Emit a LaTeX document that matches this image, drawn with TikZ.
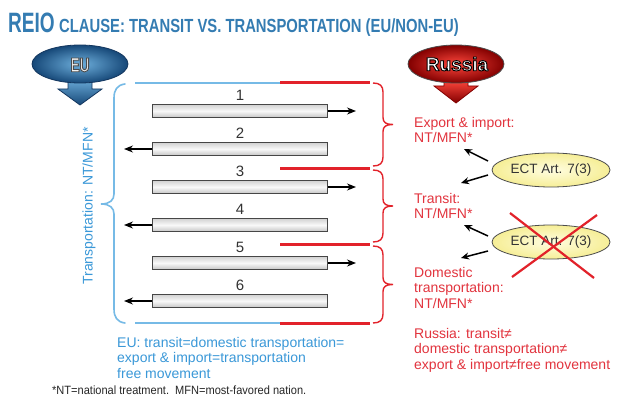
\documentclass[tikz,border=0pt]{standalone}
\usepackage{fontspec}
\setmainfont{Liberation Sans}
\newfontfamily\condfont{Liberation Sans}[FakeStretch=0.68]
\newfontfamily\subfont{Liberation Sans}[FakeStretch=0.78]
\newfontfamily\notefont{Liberation Sans}[FakeStretch=0.92]
\usetikzlibrary{shapes.geometric,arrows.meta,calc}

\definecolor{titleblue}{RGB}{52,124,178}
\definecolor{eutext}{RGB}{58,152,216}
\definecolor{euline}{RGB}{118,186,230}
\definecolor{eublobin}{RGB}{110,175,220}
\definecolor{eublobout}{RGB}{22,72,120}
\definecolor{eudark}{RGB}{20,55,95}
\definecolor{rured}{RGB}{226,34,42}
\definecolor{rutext}{RGB}{226,52,62}
\definecolor{rublobin}{RGB}{255,70,60}
\definecolor{rublobout}{RGB}{130,0,0}
\definecolor{ectfill}{RGB}{246,238,150}
\definecolor{ectin}{RGB}{255,253,225}

% outlined lettering: fill in the current colour, stroke in the given grey level
\newcommand\strokedword[2]{\special{pdf:literal direct 2 Tr 0.9 w #1 G}#2\special{pdf:literal direct 0 Tr}}

\tikzset{
  bar/.style={draw=gray!55!black, line width=0.9pt, minimum width=175pt, minimum height=13pt,
    inner sep=0pt, shading=axis, top color=gray!35, bottom color=gray!45, middle color=gray!5},
  num/.style={inner sep=0pt, font=\fontsize{15}{15}\selectfont, text=black!80},
  flow/.style={line width=1.2pt, -{Stealth[length=9pt,width=7pt]}},
  ectarrow/.style={line width=1.5pt, -{Stealth[length=8pt,width=7pt]}},
  ect/.style={ellipse, draw=gray!60!black, line width=0.8pt, minimum width=118pt, minimum height=34pt,
    inner sep=0pt, inner color=ectin, outer color=ectfill, font=\fontsize{13.5}{13.5}\selectfont, text=black!80},
  rtext/.style={anchor=north west, inner sep=0pt, align=left, text=rutext,
    font=\fontsize{14}{15.6}\selectfont},
  btext/.style={anchor=north west, inner sep=0pt, align=left, text=eutext,
    font=\fontsize{14}{15.6}\selectfont},
  blueline/.style={draw=euline, line width=1.6pt},
  redline/.style={draw=rured, line width=3pt},
  redbrace/.style={draw=rured, line width=1.4pt},
  bluebrace/.style={draw=euline, line width=1.6pt, line cap=round},
}

\begin{document}
\begin{tikzpicture}[x=1pt, y=-1pt]
\path[use as bounding box, fill=white] (0,0) rectangle (620,398);

% heading
\node[anchor=base west, inner sep=0pt, text=titleblue,
  font=\condfont\bfseries\fontsize{28}{28}\selectfont] (reio) at (8,33) {REIO};
\node[anchor=base west, inner sep=0pt, text=titleblue,
  font=\subfont\bfseries\fontsize{19}{19}\selectfont] (clause) at (59,33)
  {CLAUSE: TRANSIT VS. TRANSPORTATION (EU/NON-EU)};

% EU badge
\shade[top color=eublobin, bottom color=eublobout, draw=eudark, line width=0.8pt]
  (68,78) -- (68,89) -- (58,89) -- (80,105) -- (102,89) -- (92,89) -- (92,78) -- cycle;
\shade[inner color=eublobin, outer color=eublobout, draw=eudark, line width=0.8pt]
  (80,64) ellipse [x radius=48, y radius=19];
\node[inner sep=0pt, text=gray!10, font=\condfont\bfseries\fontsize{20}{20}\selectfont]
  (eu) at (80,65) {\strokedword{0.3}{EU}};

% Russia badge
\shade[top color=rublobin, bottom color=rublobout, draw=rublobout, line width=0.8pt]
  (444,80) -- (444,86) -- (434,86) -- (456,103) -- (478,86) -- (468,86) -- (468,80) -- cycle;
\shade[inner color=rublobin, outer color=rublobout, draw=black!70, line width=0.8pt]
  (456,64) ellipse [x radius=48, y radius=19];
\node[inner sep=0pt, text=white, font=\bfseries\fontsize{19}{19}\selectfont]
  (ru) at (457,64) {\strokedword{0}{Russia}};

% upper and lower frame lines
\draw[blueline] (135,83) -- (280,83);
\draw[redline] (280,83) -- (370,83);
\draw[blueline] (135,323) -- (280,323);
\draw[redline] (280,323) -- (370,323);
% split marks between the Russian categories
\draw[redline] (280,168) -- (370,168);
\draw[redline] (280,244) -- (370,244);

% EU brace
\draw[bluebrace] (125,84) .. controls (117,85) and (114,90) .. (114,98) -- (114,194)
  .. controls (114,200) and (110,204) .. (101,204)
  .. controls (110,204) and (114,208) .. (114,214) -- (114,309)
  .. controls (114,317) and (117,322) .. (125,323);

% Russian braces
\foreach \ya/\yb in {83/166, 170/242, 246/323}{
  \pgfmathsetmacro{\ym}{(\ya+\yb)/2}
  \draw[redbrace] (373,\ya) .. controls (380,\ya) and (383,\ya+3) .. (383,\ya+9)
    -- (383,\ym-7) .. controls (383,\ym-2) and (386,\ym) .. (393,\ym)
    .. controls (386,\ym) and (383,\ym+2) .. (383,\ym+7)
    -- (383,\yb-9) .. controls (383,\yb-3) and (380,\yb) .. (373,\yb);
}

% numbered flows
\foreach \i/\y/\dir in {1/111/r, 2/149/l, 3/187/r, 4/225/l, 5/263/r, 6/301/l}{
  \node[bar] (b\i) at (240,\y) {};
  \node[num] (n\i) at (240,\y-16) {\i};
  \if r\dir
    \coordinate (e\i) at (356,\y);
    \draw[flow] (b\i.east) -- (e\i);
  \else
    \coordinate (e\i) at (124,\y);
    \draw[flow] (b\i.west) -- (e\i);
  \fi
}

% EU side texts
\node[rotate=90, inner sep=0pt, text=eutext, font=\fontsize{14}{14}\selectfont] (eutr) at (89,206)
  {Transportation: NT/MFN*};
\node[btext] (eusum) at (117,337)
  {EU: transit=domestic transportation=\\export \& import=transportation\\free movement};
\node[anchor=base west, inner sep=0pt, text=black!85, font=\notefont\fontsize{12}{12}\selectfont]
  (note) at (52,394) {*NT=national treatment.\ \ MFN=most-favored nation.};

% Russian side texts
\node[rtext] (rexp) at (414,117) {Export \& import:\\NT/MFN*};
\node[rtext] (rtra) at (414,193) {Transit:\\NT/MFN*};
\node[rtext] (rdom) at (414,267) {Domestic\\transportation:\\NT/MFN*};
\node[rtext] (rsum) at (414,328)
  {Russia: transit≠\\domestic transportation≠\\export \& import≠free movement};

% ECT ellipses
\node[ect] (ect1) at (551,170) {ECT Art. 7(3)};
\node[ect] (ect2) at (551,242) {ECT Art. 7(3)};

\coordinate (t1) at (488,161); \coordinate (h1) at (464,149);
\coordinate (t2) at (488,175); \coordinate (h2) at (461,183);
\coordinate (t3) at (488,236); \coordinate (h3) at (464,225);
\coordinate (t4) at (488,251); \coordinate (h4) at (461,258);
\draw[ectarrow] (t1) -- (h1);
\draw[ectarrow] (t2) -- (h2);
\draw[ectarrow] (t3) -- (h3);
\draw[ectarrow] (t4) -- (h4);

% crossed-out second reference
\draw[draw=rured, line width=2.2pt] (510,213) -- (594,278);
\draw[draw=rured, line width=2.2pt] (597,215) -- (512,277);
\end{tikzpicture}
\end{document}
